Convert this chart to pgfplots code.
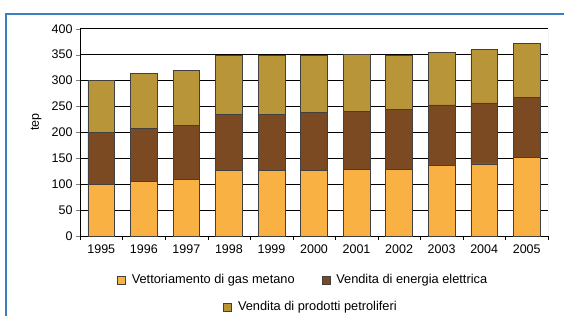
\documentclass[border=0pt]{standalone}
\usepackage{pgfplots}
\pgfplotsset{compat=1.18}
\usepackage{pgfplotstable}
\usepackage{fontspec}
\setmainfont{Liberation Sans}
\definecolor{gasc}{HTML}{F9B143}
\definecolor{elec}{HTML}{7B4A22}
\definecolor{petr}{HTML}{B9953A}
\definecolor{frameblue}{HTML}{3C7FC0}
\pgfplotstableread{
x gas elec petr
0 100 100 100
1 105 102 106
2 109 105 106
3 127 107 114
4 127 108 114
5 127 111 110
6 129 112 110
7 129 115 105
8 136 117 101
9 139 118 103
10 152 116 104
}\datatab
\begin{document}
\begin{tikzpicture}
\path[use as bounding box] (0pt,0pt) rectangle (564pt,316pt);
\draw[frameblue,line width=1.5pt] (6pt,0pt) -- (6pt,302pt) -- (564pt,302pt);
\pgfplotsset{
  mybox/.style={legend image code/.code={\draw[##1,draw=black!75,line width=0.6pt] (0pt,-4pt) rectangle (8pt,4pt);}},
}
\begin{axis}[
  at={(80pt,80pt)}, anchor=south west,
  scale only axis, width=468pt, height=207.3pt,
  ybar stacked, bar width=26.7pt,
  xmin=-0.5, xmax=10.5, ymin=0, ymax=400,
  xtick={0,...,10},
  xticklabels={1995,1996,1997,1998,1999,2000,2001,2002,2003,2004,2005},
  major x tick style={draw=none},
  minor xtick={-0.5,0.5,...,10.5},
  minor x tick style={black},
  minor tick length=4pt,
  ytick={0,50,...,400},
  major tick length=4pt,
  tick align=outside,
  ytick pos=left, xtick pos=bottom,
  ymajorgrids, grid style={black, line width=0.8pt},
  axis line style={black, line width=0.8pt},
  axis x line*=bottom, axis y line*=left,
  tick label style={font=\fontsize{12.5}{14}\selectfont, black},
  /pgf/number format/assume math mode=true,
  xticklabel style={yshift=-1pt},
  ylabel={tep},
  ylabel style={at={(axis description cs:-0.094,0.55)}, anchor=center, font=\fontsize{12.5}{14}\selectfont},
  legend columns=2,
  legend style={at={(axis description cs:0.079,-0.212)}, anchor=west, draw=none, fill=none, inner sep=0pt,
    font=\fontsize{12.8}{15}\selectfont,
    /tikz/every odd column/.append style={column sep=4pt},
    /tikz/every even column/.append style={column sep=25pt}},
  mybox,
]
\addplot[fill=gasc, draw=black!75, line width=0.6pt] table[x=x,y=gas]{\datatab};
\addlegendentry{Vettoriamento di gas metano}
\addplot[fill=elec, draw=black!75, line width=0.6pt] table[x=x,y=elec]{\datatab};
\addlegendentry{Vendita di energia elettrica}
\addplot[fill=petr, draw=black!75, line width=0.6pt] table[x=x,y=petr]{\datatab};
\draw[gray!70, line width=0.8pt] (rel axis cs:1,0) -- (rel axis cs:1,1);
\draw[black, line width=0.8pt] (rel axis cs:0,1) -- (rel axis cs:1,1);
\end{axis}
\begin{axis}[
  at={(80pt,80pt)}, anchor=south west,
  scale only axis, width=468pt, height=207.3pt,
  hide axis, xmin=0, xmax=1, ymin=0, ymax=1,
  legend style={at={(axis description cs:0.306,-0.342)}, anchor=west, draw=none, fill=none, inner sep=0pt,
    font=\fontsize{12.8}{15}\selectfont,
    /tikz/every odd column/.append style={column sep=4pt}},
  mybox,
]
\addlegendimage{fill=petr, draw=black!75}
\addlegendentry{Vendita di prodotti petroliferi}
\end{axis}
\end{tikzpicture}
\end{document}
